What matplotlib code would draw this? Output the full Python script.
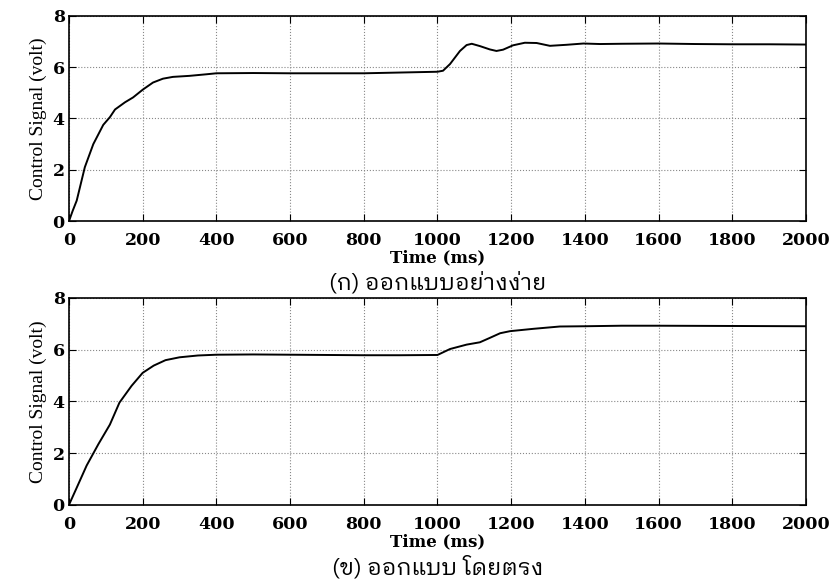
import matplotlib
matplotlib.use("Agg")
import matplotlib.pyplot as plt
from matplotlib import font_manager
from matplotlib.ft2font import FT2Font

# --- data ---
t_simple = [0, 10, 21, 43, 66, 93, 111, 125, 152, 174, 200, 228, 255, 282, 327, 372,
            400, 500, 600, 700, 800, 900, 1000, 1015, 1034, 1061, 1079, 1093, 1115,
            1142, 1160, 1178, 1205, 1237, 1269, 1305, 1350, 1396, 1441, 1500, 1600,
            1700, 1800, 1900, 2000]
v_simple = [0, 0.4, 0.8, 2.1, 3.0, 3.75, 4.05, 4.35, 4.63, 4.82, 5.12, 5.40, 5.55, 5.62,
            5.66, 5.72, 5.76, 5.77, 5.76, 5.76, 5.76, 5.79, 5.82, 5.86, 6.12, 6.63, 6.86,
            6.91, 6.82, 6.69, 6.63, 6.68, 6.85, 6.95, 6.94, 6.83, 6.87, 6.92, 6.90, 6.91,
            6.92, 6.90, 6.89, 6.89, 6.88]

t_direct = [0, 20, 48, 80, 111, 137, 170, 200, 230, 262, 300, 350, 400, 500, 600, 700,
            800, 900, 1000, 1034, 1079, 1115, 1142, 1170, 1197, 1260, 1332, 1400, 1500,
            1600, 1800, 2000]
v_direct = [0, 0.63, 1.52, 2.35, 3.1, 3.95, 4.6, 5.1, 5.38, 5.59, 5.70, 5.77, 5.80, 5.81,
            5.80, 5.79, 5.78, 5.78, 5.79, 6.02, 6.19, 6.28, 6.45, 6.63, 6.71, 6.80, 6.89,
            6.90, 6.92, 6.92, 6.91, 6.90]

captions = ["(ก) ออกแบบอย่างง่าย", "(ข) ออกแบบ โดยตรง"]
x_ticks = list(range(0, 2001, 200))
y_ticks = [0, 2, 4, 6, 8]


# find an installed font that has Thai glyphs (looped styles first)
def thai_family():
    found = []
    for f in font_manager.fontManager.ttflist:
        try:
            if 0x0E01 in FT2Font(f.fname).get_charmap():
                found.append(f.name)
        except Exception:
            pass
    for key in ["Looped", "Loma", "Garuda", "Norasi", "Kinnari", "Sarabun", "Serif Thai"]:
        for name in found:
            if key in name:
                return name
    return found[0] if found else "DejaVu Sans"


thai = thai_family()

fig = plt.figure(figsize=(8.3, 5.85), dpi=100)
ax1 = fig.add_axes([0.0831, 0.622, 0.888, 0.351])
ax2 = fig.add_axes([0.0831, 0.137, 0.888, 0.354])

for ax, t, v, cap, cap_y in [(ax1, t_simple, v_simple, captions[0], 0.516),
                             (ax2, t_direct, v_direct, captions[1], 0.030)]:
    ax.plot(t, v, color="black", linewidth=1.4)
    ax.set_xlim(0, 2000)
    ax.set_ylim(0, 8)
    ax.set_xticks(x_ticks)
    ax.set_yticks(y_ticks)
    ax.grid(True, linestyle=":", color="#888888", linewidth=0.8)
    ax.tick_params(direction="in", top=True, right=True, length=5)
    ax.tick_params(axis="x", pad=8)
    ax.tick_params(axis="y", pad=3)
    for lab in ax.get_xticklabels() + ax.get_yticklabels():
        lab.set_fontfamily("DejaVu Serif")
        lab.set_fontweight("bold")
        lab.set_fontsize(12.5)
    for s in ax.spines.values():
        s.set_linewidth(1.2)
    ax.set_ylabel("Control Signal (volt)", family="Liberation Serif", fontsize=14, labelpad=4)
    ax.set_xlabel("Time (ms)", family="DejaVu Serif", fontweight="bold", fontsize=12, labelpad=0)
    fig.text(0.527, cap_y, cap, ha="center", va="center",
             family=[thai, "DejaVu Sans"], fontsize=16.5)

fig.savefig("out.png", dpi=100)
